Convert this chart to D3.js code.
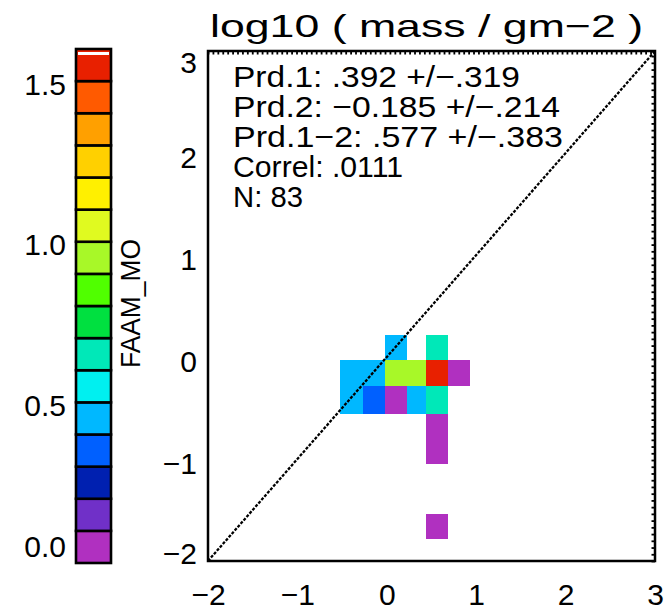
<!DOCTYPE html>
<html>
<head>
<meta charset="utf-8">
<script src="https://cdn.jsdelivr.net/npm/d3@7"></script>
<style>
  html, body { margin: 0; padding: 0; background: #fff; }
  svg { display: block; }
  text { font-family: "Liberation Sans", Arial, sans-serif; fill: #000; }
</style>
</head>
<body>
<svg id="chart" width="666" height="612"></svg>
<script>
// ---- data ----
// bin edges of the 2-D histogram (log10 mass, gm-2)
const xEdges = [-0.52, -0.27, -0.02, 0.23, 0.44, 0.69, 0.93];
const yEdges = [0.22, -0.03, -0.28, -0.56, -0.805, -1.05, -1.30, -1.54, -1.78];

// occupied cells: column index, row index, FAAM_MO value
const cellCol   = [2, 4, 0, 1, 2, 3, 4, 5, 0, 1, 2, 3, 4, 4, 4, 4];
const cellRow   = [0, 0, 1, 1, 1, 1, 1, 1, 2, 2, 2, 2, 2, 3, 4, 7];
const cellValue = [0.45, 0.66, 0.42, 0.47, 0.93, 0.96, 1.56, 0.04,
                   0.44, 0.33, 0.06, 0.41, 0.64, 0.05, 0.03, 0.02];

const axisTicks = [-2, -1, 0, 1, 2, 3];
const colorTicks = [0.0, 0.5, 1.0, 1.5];
const colorDomain = [0, 1.6];
const palette = ["#b030c0", "#7030c8", "#0020b0", "#0060ff", "#00b8ff", "#00f0f0",
                 "#00e8b8", "#00e040", "#50ff00", "#a8f828", "#e0fa20", "#fff000",
                 "#ffd000", "#ffa000", "#ff5a00", "#e82000"];

const titleText = "log10 ( mass / gm\u22122 )";
const statLines = ["Prd.1: .392 +/\u2212.319",
                   "Prd.2: \u22120.185 +/\u2212.214",
                   "Prd.1\u22122: .577 +/\u2212.383",
                   "Correl: .0111",
                   "N: 83"];
const colorLabel = "FAAM_MO";

// ---- layout ----
const svg = d3.select("#chart");
const plot = { left: 208, right: 655, top: 51, bottom: 561 };

const x = d3.scaleLinear().domain([-2, 3]).range([plot.left, plot.right]);
const y = d3.scaleLinear().domain([-2, 3]).range([plot.bottom, plot.top]);
const color = d3.scaleQuantize().domain(colorDomain).range(palette);

svg.append("rect").attr("width", 666).attr("height", 612).attr("fill", "#fff");

// ---- histogram cells ----
const cells = cellCol.map((c, i) => ({ c, r: cellRow[i], v: cellValue[i] }));
svg.append("g").attr("shape-rendering", "crispEdges")
  .selectAll("rect").data(cells).join("rect")
  .attr("x", d => Math.round(x(xEdges[d.c])))
  .attr("y", d => Math.round(y(yEdges[d.r])))
  .attr("width", d => Math.round(x(xEdges[d.c + 1])) - Math.round(x(xEdges[d.c])))
  .attr("height", d => Math.round(y(yEdges[d.r + 1])) - Math.round(y(yEdges[d.r])))
  .attr("fill", d => color(d.v));

// 1:1 line
svg.append("line")
  .attr("x1", x(-2)).attr("y1", y(-2))
  .attr("x2", x(3)).attr("y2", y(3))
  .attr("stroke", "#000").attr("stroke-width", 2.3)
  .attr("stroke-dasharray", "3 1.5");

// frame with fine ticks along top and right
const topTicks = d3.range(-2, 3.0001, 0.055);
const rightTicks = d3.range(-2, 3.0001, 0.066);
svg.append("g").attr("transform", `translate(0,${plot.top})`)
  .call(d3.axisBottom(x).tickValues(topTicks).tickSize(3.5).tickFormat(""))
  .call(g => g.select(".domain").remove())
  .call(g => g.selectAll("line").attr("stroke-width", 1.8));
svg.append("g").attr("transform", `translate(${plot.right},0)`)
  .call(d3.axisLeft(y).tickValues(rightTicks).tickSize(3.5).tickFormat(""))
  .call(g => g.select(".domain").remove())
  .call(g => g.selectAll("line").attr("stroke-width", 1.8));

svg.append("rect")
  .attr("x", plot.left).attr("y", plot.top)
  .attr("width", plot.right - plot.left).attr("height", plot.bottom - plot.top)
  .attr("fill", "none").attr("stroke", "#000").attr("stroke-width", 2.5);

// bottom axis labels
const xAxis = svg.append("g").attr("transform", `translate(0,${plot.bottom})`)
  .call(d3.axisBottom(x).tickValues(axisTicks).tickSize(0).tickFormat(d3.format("d")));
xAxis.select(".domain").remove();
xAxis.selectAll("text")
  .attr("y", 44).attr("dy", 0)
  .attr("font-size", 30).attr("font-family", "Liberation Sans, Arial, sans-serif");

// left axis labels (end labels pulled inside the frame)
const yAxis = svg.append("g").attr("transform", `translate(${plot.left},0)`)
  .call(d3.axisLeft(y).tickValues(axisTicks).tickSize(0).tickFormat(d3.format("d")));
yAxis.select(".domain").remove();
yAxis.selectAll("text")
  .attr("x", -11)
  .attr("dy", d => {
    const c = Math.min(Math.max(y(d) + 3, plot.top + 10), plot.bottom - 9);
    return (c - y(d) + 11) + "px";
  })
  .attr("font-size", 30).attr("font-family", "Liberation Sans, Arial, sans-serif");

// title
svg.append("text")
  .attr("x", 210).attr("y", 37)
  .attr("font-size", 32)
  .attr("textLength", 433).attr("lengthAdjust", "spacingAndGlyphs")
  .text(titleText);

// statistics block
const statWidths = [287, 327, 330, 170, 70];
svg.append("g").selectAll("text").data(statLines).join("text")
  .attr("x", 233)
  .attr("y", (d, i) => 87 + 30 * i)
  .attr("font-size", 30)
  .attr("textLength", (d, i) => statWidths[i]).attr("lengthAdjust", "spacingAndGlyphs")
  .text(d => d);

// ---- colour bar ----
const cb = { left: 76, right: 111, top: 49, bottom: 563 };
const cbY = d3.scaleLinear().domain(colorDomain).range([cb.bottom, cb.top]);
const levels = palette.map((c, i) => ({ lo: i / 10, hi: (i + 1) / 10, c }));

const cbG = svg.append("g");
cbG.selectAll("rect").data(levels).join("rect")
  .attr("x", cb.left).attr("width", cb.right - cb.left)
  .attr("y", d => cbY(d.hi)).attr("height", d => cbY(d.lo) - cbY(d.hi))
  .attr("fill", d => d.c)
  .attr("stroke", "#000").attr("stroke-width", 2.6);
cbG.append("rect")
  .attr("x", cb.left + 2).attr("width", cb.right - cb.left - 4)
  .attr("y", cb.top + 3).attr("height", 3).attr("fill", "#fff");

const cbAxis = svg.append("g").attr("transform", `translate(${cb.left},0)`)
  .call(d3.axisLeft(cbY).tickValues(colorTicks).tickSize(0).tickFormat(d3.format(".1f")));
cbAxis.select(".domain").remove();
cbAxis.selectAll("text")
  .attr("x", -10)
  .attr("dy", d => {
    const c = Math.min(cbY(d) + 2, cb.bottom - 18);
    return (c - cbY(d) + 11) + "px";
  })
  .attr("font-size", 30).attr("font-family", "Liberation Sans, Arial, sans-serif");

svg.append("text")
  .attr("transform", `translate(140,${(239 + 368) / 2}) rotate(-90)`)
  .attr("text-anchor", "middle")
  .attr("font-size", 28)
  .attr("textLength", 129).attr("lengthAdjust", "spacingAndGlyphs")
  .text(colorLabel);
</script>
</body>
</html>
